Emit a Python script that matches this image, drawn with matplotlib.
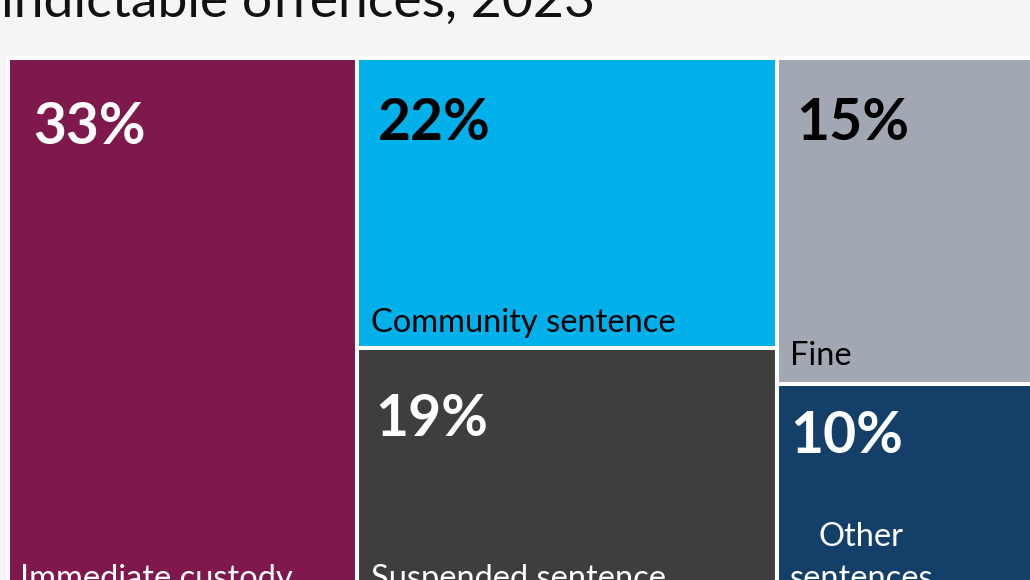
import matplotlib
matplotlib.use("Agg")
import matplotlib.pyplot as plt
from matplotlib.patches import Rectangle

plt.rcParams["font.family"] = ["Lato", "DejaVu Sans"]

# data: share of sentences (%), grouped into treemap columns
labels = ["Immediate custody", "Community sentence", "Suspended sentence",
          "Fine", "Other\nsentences"]
shares = [33.4, 21.5, 18.7, 15.4, 10.2]
columns = [[0], [1, 2], [3, 4]]

# style
fills = ["#7f184c", "#00b0ea", "#3e3e3e", "#a2a7b4", "#143f69"]
text_cols = ["white", "black", "white", "black", "white"]
pct_off = [(23, 42), (19, 37), (16, 43), (18, 37), (12, 24)]   # px from box top-left
lab_off = [(10, 11), (12, 14), (12, 11), (11, 17), (11, 11)]   # px from box bottom-left

# treemap frame in pixels
X0, Y0, W, H = 8, 57.5, 1036, 543

fig = plt.figure(figsize=(10.3, 5.8), dpi=100)
fig.patch.set_facecolor("#f5f5f5")
ax = fig.add_axes([0, 0, 1, 1])
ax.set_xlim(0, 1030)
ax.set_ylim(580, 0)
ax.axis("off")

ax.add_patch(Rectangle((6, 56), 1100, 600, facecolor="white", edgecolor="none"))

total = sum(shares)
x = X0
for col in columns:
    csum = sum(shares[i] for i in col)
    cw = W * csum / total
    y = Y0
    for i in col:
        h = H * shares[i] / csum
        ax.add_patch(Rectangle((x, y), cw, h, facecolor=fills[i],
                               edgecolor="white", linewidth=2.9))
        px, py = pct_off[i]
        ax.text(x + 2 + px, y + 2 + py, f"{shares[i]:.0f}%", color=text_cols[i],
                fontsize=41, fontweight="bold", ha="left", va="top")
        lx, ly = lab_off[i]
        ax.text(x + 2 + lx, y + h - 2 - ly, labels[i], color=text_cols[i],
                fontsize=23.5, ha="left", va="baseline", multialignment="center",
                linespacing=1.5)
        y += h
    x += cw

ax.text(1, 17, "indictable offences, 2023", fontsize=38.5, color="#111111",
        ha="left", va="baseline")

fig.savefig("out.png", dpi=100, facecolor=fig.get_facecolor())
